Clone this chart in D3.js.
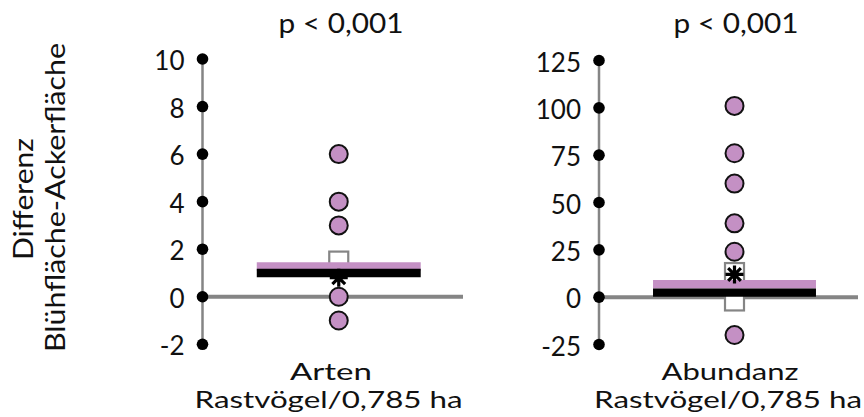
<!DOCTYPE html>
<html><head><meta charset="utf-8">
<script src="https://cdn.jsdelivr.net/npm/d3@7"></script>
<style>
body{margin:0;background:#fff}
text{font-family:Lato,'Open Sans',sans-serif;fill:#111}
</style>
</head><body>
<svg id="chart" width="864" height="417"></svg>
<script>
// ---------- data ----------
const categories = ["Arten", "Abundanz"];
const unitLabels = ["Rastvögel/0,785 ha", "Rastvögel/0,785 ha"];
const pLabels = ["p < 0,001", "p < 0,001"];
const yTitle = ["Differenz", "Blühfläche-Ackerfläche"];
const ticksArten = [-2, 0, 2, 4, 6, 8, 10];
const ticksAbundanz = [-25, 0, 25, 50, 75, 100, 125];
const pointsArten = [6, 4, 3, 0, -1];
const pointsAbundanz = [101, 76, 60, 39, 24, -20];
const pinkLine = [1.27, 6.8];
const blackLine = [1.0, 2.4];
const asteriskValue = [0.8, 12];
const squaresArten = [1.5];
const squaresAbundanz = [13, -2];

// ---------- layout ----------
const PINK = "#c490c4", GREY = "#858585";
const svg = d3.select("#chart");
svg.append("rect").attr("width", 864).attr("height", 417).attr("fill", "#fff");

const panels = [
  {cat: categories[0], unit: unitLabels[0], p: pLabels[0], ticks: ticksArten, pts: pointsArten,
   sq: squaresArten, pink: pinkLine[0], black: blackLine[0], ast: asteriskValue[0],
   axisX: 202.5, endX: 463, yRange: [344.3, 59], domain: [-2, 10],
   catX: 331, catW: 82, unitX: 328.5, pX: 341},
  {cat: categories[1], unit: unitLabels[1], p: pLabels[1], ticks: ticksAbundanz, pts: pointsAbundanz,
   sq: squaresAbundanz, pink: pinkLine[1], black: blackLine[1], ast: asteriskValue[1],
   axisX: 599, endX: 858, yRange: [344.5, 60.5], domain: [-25, 125],
   catX: 730, catW: 137, unitX: 728, pX: 736}
];

// y-axis title
svg.append("text").attr("transform", "translate(33.3,199) rotate(-90)")
  .attr("text-anchor", "middle").attr("font-size", 26)
  .attr("textLength", 122).attr("lengthAdjust", "spacingAndGlyphs").text(yTitle[0]);
svg.append("text").attr("transform", "translate(65,197.5) rotate(-90)")
  .attr("text-anchor", "middle").attr("font-size", 26)
  .attr("textLength", 309).attr("lengthAdjust", "spacingAndGlyphs").text(yTitle[1]);

panels.forEach(P => {
  const y = d3.scaleLinear().domain(P.domain).range(P.yRange);
  const x = d3.scaleBand().domain([P.cat]).range([P.axisX + 12, P.endX]).padding(0.205);
  const cx = x(P.cat) + x.bandwidth() / 2;
  const g = svg.append("g");

  // axis line
  g.append("line").attr("x1", P.axisX).attr("x2", P.axisX)
    .attr("y1", y(P.domain[1])).attr("y2", y(P.domain[0]))
    .attr("stroke", GREY).attr("stroke-width", 2.5);

  // zero line
  g.append("line").attr("x1", P.axisX).attr("x2", P.endX)
    .attr("y1", y(0)).attr("y2", y(0))
    .attr("stroke", GREY).attr("stroke-width", 4);

  // tick dots + labels
  g.selectAll(".tk").data(P.ticks).join("circle")
    .attr("cx", P.axisX).attr("cy", d => y(d)).attr("r", 5.8).attr("fill", "#000");
  g.selectAll(".tl").data(P.ticks).join("text")
    .attr("x", P.axisX - 18).attr("y", d => y(d) + 11)
    .attr("text-anchor", "end").attr("font-size", 26).text(d => d);

  // squares (hollow grey)
  g.selectAll(".sq").data(P.sq).join("rect")
    .attr("x", cx - 9.5).attr("y", d => y(d) - 9.5).attr("width", 19).attr("height", 19)
    .attr("fill", "#fff").attr("stroke", GREY).attr("stroke-width", 2.2);

  // pink line
  g.append("line").attr("x1", x(P.cat)).attr("x2", x(P.cat) + x.bandwidth())
    .attr("y1", y(P.pink)).attr("y2", y(P.pink))
    .attr("stroke", PINK).attr("stroke-width", 8.4);

  // asterisk
  const ay = y(P.ast), s = 9;
  const arms = [0, 45, 90, 135].map(a => {
    const r = a * Math.PI / 180;
    return `M${cx - s * Math.cos(r)},${ay - s * Math.sin(r)}L${cx + s * Math.cos(r)},${ay + s * Math.sin(r)}`;
  }).join("");
  g.append("path").attr("d", arms).attr("stroke", "#000").attr("stroke-width", 3.2).attr("fill", "none");

  // black line
  g.append("line").attr("x1", x(P.cat)).attr("x2", x(P.cat) + x.bandwidth())
    .attr("y1", y(P.black)).attr("y2", y(P.black))
    .attr("stroke", "#000").attr("stroke-width", 8.4);

  // data points
  g.selectAll(".pt").data(P.pts).join("circle")
    .attr("cx", cx).attr("cy", d => y(d)).attr("r", 9)
    .attr("fill", PINK).attr("stroke", "#111").attr("stroke-width", 2);

  // p label
  g.append("text").attr("x", P.pX).attr("y", 33.3).attr("text-anchor", "middle")
    .attr("font-size", 26).attr("textLength", 125).attr("lengthAdjust", "spacingAndGlyphs").text(P.p);

  // category labels
  g.append("text").attr("x", P.catX).attr("y", 379.5).attr("text-anchor", "middle")
    .attr("font-size", 22.5).attr("textLength", P.catW).attr("lengthAdjust", "spacingAndGlyphs").text(P.cat);
  g.append("text").attr("x", P.unitX).attr("y", 408).attr("text-anchor", "middle")
    .attr("font-size", 22.5).attr("textLength", 268).attr("lengthAdjust", "spacingAndGlyphs").text(P.unit);
});
</script>
</body></html>
